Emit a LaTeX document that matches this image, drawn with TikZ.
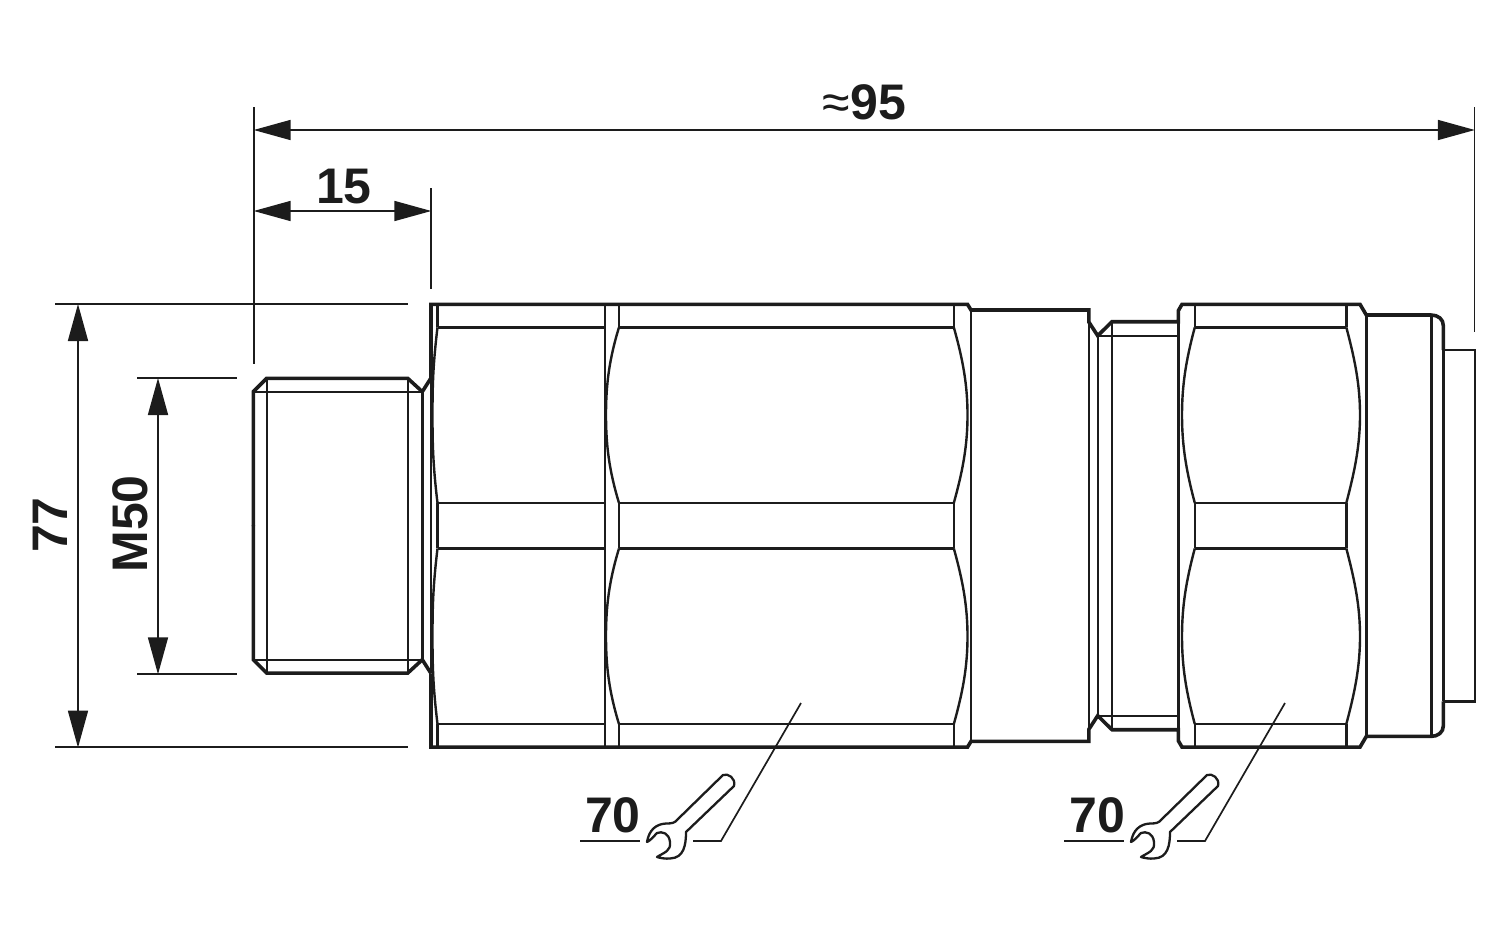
\documentclass[tikz,border=0pt]{standalone}
\usepackage{fontspec}
\setmainfont{Liberation Sans}
\usepackage{tikz}
\usetikzlibrary{calc, arrows.meta}
\definecolor{ink}{HTML}{1C1C1C}
\newcommand{\dimfont}{\fontsize{50}{50}\bfseries\selectfont}
\tikzset{
  heavy/.style={ink, line width=3.6pt, line join=miter},
  thin/.style={ink, line width=2.4pt},
  dimline/.style={ink, line width=1.7pt},
  dimarrow/.style={dimline, {Triangle[length=37pt,width=20pt]}-{Triangle[length=37pt,width=20pt]}, shorten <=-0.3pt, shorten >=-0.3pt},
  dimtext/.style={ink, inner sep=0pt, font=\dimfont},
  wrench/.pic={
    \draw[ink, line width=2.3pt, line join=round]
      (723,775) .. controls (728,773) and (736,778) .. (734,786)
      -- (686,832)
      .. controls (686,845) and (684,858) .. (670,858.5)
      .. controls (666,859) and (660,858) .. (657,857)
      .. controls (665,852) and (671,851) .. (670,842)
      .. controls (669,833) and (662,831) .. (657,833)
      .. controls (654,836) and (650,841) .. (647,842)
      .. controls (649,830) and (656,824) .. (666,823.5)
      .. controls (672,823.5) and (675,823) .. (678,819)
      -- cycle;
  }
}
\begin{document}
\begin{tikzpicture}[x=1pt,y=-1pt]
  \useasboundingbox (0,0) rectangle (1500,937);
  % dimension anchors
  \coordinate (lenL) at (254,130);
  \coordinate (lenR) at (1474.5,130);
  \coordinate (lenLtop) at (254,107);
  \coordinate (lenLbot) at (254,364);
  \coordinate (lenRtop) at (1474.5,107);
  \coordinate (lenRbot) at (1474.5,332);
  \coordinate (threadL) at (254,211);
  \coordinate (threadR) at (431,211);
  \coordinate (threadRtop) at (431,188);
  \coordinate (threadRbot) at (431,289);
  \coordinate (bodyT) at (78,304.3);
  \coordinate (bodyB) at (78,747.3);
  \coordinate (bodyTl) at (55,304.3);
  \coordinate (bodyTr) at (408,304.3);
  \coordinate (bodyBl) at (55,747.3);
  \coordinate (bodyBr) at (408,747.3);
  \coordinate (metT) at (158,378.3);
  \coordinate (metB) at (158,674);
  \coordinate (metTl) at (137,378.3);
  \coordinate (metTr) at (237,378.3);
  \coordinate (metBl) at (137,674);
  \coordinate (metBr) at (237,674);
  % extension lines
  \draw[dimline] (lenLtop) -- (lenLbot);
  \draw[dimline] (lenRtop) -- (lenRbot);
  \draw[dimline] (threadRtop) -- (threadRbot);
  \draw[dimline] (bodyTl) -- (bodyTr);
  \draw[dimline] (bodyBl) -- (bodyBr);
  \draw[dimline] (metTl) -- (metTr);
  \draw[dimline] (metBl) -- (metBr);
  % dimension arrows
  \draw[dimarrow] (lenL) -- (lenR);
  \draw[dimarrow] (threadL) -- (threadR);
  \draw[dimarrow] (bodyT) -- (bodyB);
  \draw[dimarrow] (metT) -- (metB);
  % dimension labels
  \node[dimtext] (lenlabel) at (864.5,102) {{\mdseries\fontsize{50}{50}\selectfont ≈}95};
  \node[dimtext] (threadlabel) at (344,187) {15};
  \node[dimtext, rotate=90] (bodylabel) at (50,525) {77};
  \node[dimtext, rotate=90] (metlabel) at (130,524) {M50};
  % upper half, then the same again mirrored about the axis
  \foreach \flip/\shft in {1/0,-1/1051.4} {
    \begin{scope}[shift={(0,\shft)},yscale=\flip]
      % outline
      \draw[heavy] (253.3,526) -- (253.3,391.7) -- (266.7,378.3) -- (407.7,378.3) -- (422.3,391.7) -- (431,378);
      \draw[heavy] (431,378) -- (431,304.3) -- (967.5,304.3) -- (971,310) -- (1088.8,310)
        -- (1088.8,322) -- (1097.7,335.7) -- (1112,321.7) -- (1178.3,321.7) -- (1178.3,310.7)
        -- (1182,304.3) -- (1360,304.3) -- (1366.3,315) -- (1431,315)
        .. controls (1438,315) and (1443.4,319) .. (1443.4,326) -- (1443.4,350);
      \draw[thin] (1443.4,350) -- (1474.8,350) -- (1474.8,526);
      % thread
      \draw[thin] (253.3,391.7) -- (422.3,391.7);
      \draw[thin] (266.7,378.3) -- (266.7,526);
      \draw[thin] (407.7,378.3) -- (407.7,526);
      \draw[thin] (422.3,391.7) -- (422.3,526);
      \draw[thin] (431,378) -- (431,526);
      % flats
      \foreach \xa/\xb in {437.5/605,619/953.8,1194.8/1346.3} {
        \draw[thin] (\xa,327.3) -- (\xb,327.3);
        \draw[thin] (\xa,503) -- (\xb,503);
        \draw[thin] (\xa,304.3) -- (\xa,327.3);
        \draw[thin] (\xb,304.3) -- (\xb,327.3);
        \draw[thin] (\xa,503) -- (\xa,526);
        \draw[thin] (\xb,503) -- (\xb,526);
      }
      % hexagon bulges
      \draw[thin] (437.5,327.3) .. controls (433,365) and (432.5,385) .. (432.5,415) .. controls (432.5,445) and (433,465) .. (437.5,503);
      \draw[thin] (619,327.3) .. controls (609,360) and (606,385) .. (606,415) .. controls (606,445) and (609,470) .. (619,503);
      \draw[thin] (953.8,327.3) .. controls (963,360) and (967.5,385) .. (967.5,415) .. controls (967.5,445) and (963,470) .. (953.8,503);
      \draw[thin] (1194.8,327.3) .. controls (1186,360) and (1182,385) .. (1182,415) .. controls (1182,445) and (1186,470) .. (1194.8,503);
      \draw[thin] (1346.3,327.3) .. controls (1355,360) and (1360,385) .. (1360,415) .. controls (1360,445) and (1355,470) .. (1346.3,503);
      % steps
      \draw[thin] (605,327.3) -- (605,503);
      \draw[thin] (971,310) -- (971,526);
      \draw[thin] (1088.8,322) -- (1088.8,526);
      \draw[thin] (1097.7,335.7) -- (1097.7,526);
      \draw[thin] (1112,321.7) -- (1112,526);
      \draw[thin] (1097.7,335.7) -- (1178.3,335.7);
      \draw[thin] (1178.3,321.7) -- (1178.3,526);
      \draw[thin] (1366.3,315) -- (1366.3,526);
      \draw[thin] (1431.4,315) -- (1431.4,526);
      \draw[thin] (1443.4,350) -- (1443.4,526);
    \end{scope}
  }
  % flats lines that join the two halves
  \foreach \xa/\xb in {437.5/605,619/953.8,1194.8/1346.3} {
    \draw[thin] (\xa,503) -- (\xa,548.4);
    \draw[thin] (\xb,503) -- (\xb,548.4);
  }
  % wrench sizes
  \foreach \dx in {0,484} {
    \begin{scope}[shift={(\dx,0)}]
      \node[dimtext] (size\dx) at (613,815) {70};
      \coordinate (ruleL\dx) at (580,841);
      \coordinate (ruleR\dx) at (640,841);
      \coordinate (leadS\dx) at (693,841);
      \coordinate (leadK\dx) at (721,841);
      \coordinate (leadE\dx) at (801,703);
      \draw[dimline] (ruleL\dx) -- (ruleR\dx);
      \draw[dimline] (leadS\dx) -- (leadK\dx) -- (leadE\dx);
      \pic {wrench};
    \end{scope}
  }
\end{tikzpicture}
\end{document}
